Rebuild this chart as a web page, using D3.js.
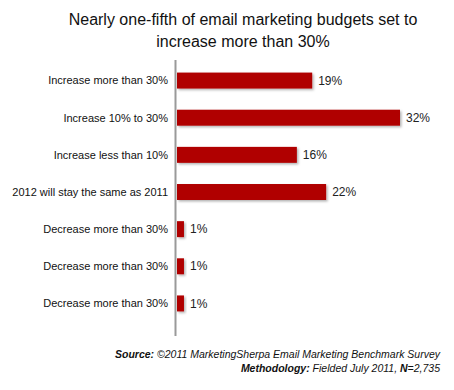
<!DOCTYPE html>
<html><head><meta charset="utf-8">
<script src="https://cdn.jsdelivr.net/npm/d3@7"></script>
<style>body{margin:0;background:#fff;} svg{display:block;font-family:Arial,"Liberation Sans",sans-serif;}</style>
</head><body>
<script>
const categories = ["Increase more than 30%","Increase 10% to 30%","Increase less than 10%","2012 will stay the same as 2011","Decrease more than 30%","Decrease more than 30%","Decrease more than 30%"];
const values = [19.4, 32, 17.2, 21.4, 1, 1, 1];
const valueLabels = ["19%","32%","16%","22%","1%","1%","1%"];
const titleLines = ["Nearly one-fifth of email marketing budgets set to","increase more than 30%"];

const W=454,H=390;
const svg=d3.select("body").append("svg").attr("width",W).attr("height",H);
const defs=svg.append("defs");
const f=defs.append("filter").attr("id","sh").attr("x","-20%").attr("y","-20%").attr("width","150%").attr("height","160%");
f.append("feDropShadow").attr("dx",1.5).attr("dy",1.5).attr("stdDeviation",1).attr("flood-color","#000").attr("flood-opacity",0.3);

svg.selectAll("text.title").data(titleLines).join("text").attr("class","title")
 .attr("x",243).attr("y",(d,i)=>25+i*22).attr("text-anchor","middle")
 .attr("font-size",16).attr("fill","#111").text(d=>d);

const x0=177;
const x=d3.scaleLinear().domain([0,32]).range([x0,400]);
const y=d3.scaleBand().domain(d3.range(categories.length)).range([54,330]).paddingInner(0.57).paddingOuter(0.5);

const g=svg.append("g");
g.selectAll("rect").data(values).join("rect")
 .attr("x",x0).attr("y",(d,i)=>y(i)).attr("width",d=>x(d)-x0).attr("height",y.bandwidth())
 .attr("fill","#b00000").attr("filter","url(#sh)");

svg.append("line").attr("x1",175.5).attr("x2",175.5).attr("y1",60).attr("y2",336).attr("stroke","#9a9a9a").attr("stroke-width",2);

g.selectAll("text.cat").data(categories).join("text").attr("class","cat")
 .attr("x",168).attr("y",(d,i)=>y(i)+y.bandwidth()/2).attr("dy","0.35em").attr("text-anchor","end")
 .attr("font-size",11).attr("fill","#111").text(d=>d);

g.selectAll("text.val").data(values).join("text").attr("class","val")
 .attr("x",d=>x(d)+6).attr("y",(d,i)=>y(i)+y.bandwidth()/2).attr("dy","0.35em")
 .attr("font-size",12).attr("fill","#222").text((d,i)=>valueLabels[i]);

const foot=svg.append("g").attr("font-size",10.5).attr("font-style","italic").attr("fill","#111").attr("text-anchor","end");
const t1=foot.append("text").attr("x",440).attr("y",358);
t1.append("tspan").attr("font-weight","bold").text("Source:");
t1.append("tspan").text(" ©2011 MarketingSherpa Email Marketing Benchmark Survey");
const t2=foot.append("text").attr("x",440).attr("y",372);
t2.append("tspan").attr("font-weight","bold").text("Methodology:");
t2.append("tspan").text(" Fielded July 2011, ");
t2.append("tspan").attr("font-weight","bold").text("N");
t2.append("tspan").text("=2,735");
</script>
</body></html>
